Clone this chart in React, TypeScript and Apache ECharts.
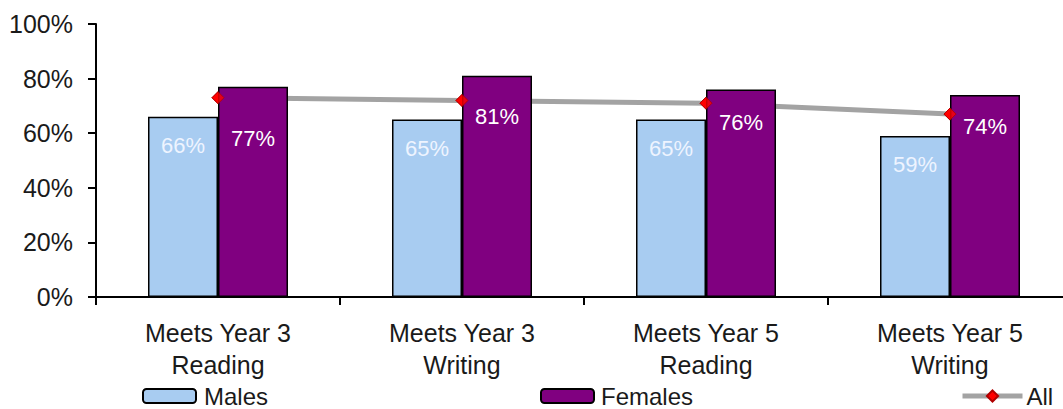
import React, { useEffect, useRef } from "react";
import * as echarts from "echarts";

const categories = [
  "Meets Year 3\nReading",
  "Meets Year 3\nWriting",
  "Meets Year 5\nReading",
  "Meets Year 5\nWriting",
];
const males = [66, 65, 65, 59];
const females = [77, 81, 76, 74];
const allStudents = [73, 72, 71, 67];
const yTicks = [0, 20, 40, 60, 80, 100];

// label placement (distance from bar top), kept apart from the data
const maleLabelDist = [18, 18, 18, 18];
const femaleLabelDist = [41, 30, 22, 21];

const FONT = "'Liberation Sans', Arial, sans-serif";
const TEXT = "#1a1a1a";

export default function App() {
  const ref = useRef<HTMLDivElement>(null);

  useEffect(() => {
    if (!ref.current) return;
    const chart = echarts.init(ref.current, null, { renderer: "svg" });
    const legendText = { fontSize: 24, lineHeight: 24, color: TEXT, fontFamily: FONT };
    const option: any = {
      animation: false,
      backgroundColor: "#ffffff",
      textStyle: { fontFamily: FONT, color: TEXT },
      grid: { left: 96, top: 24, width: 976, height: 273, containLabel: false },
      xAxis: {
        type: "category",
        data: categories,
        axisLine: { show: true, lineStyle: { color: "#000", width: 2 } },
        axisTick: { show: true, length: 8, lineStyle: { color: "#000", width: 2 } },
        axisLabel: {
          fontSize: 25,
          lineHeight: 32,
          margin: 20,
          color: TEXT,
          fontFamily: FONT,
          interval: 0,
        },
        splitLine: { show: false },
      },
      yAxis: {
        type: "value",
        min: yTicks[0],
        max: yTicks[yTicks.length - 1],
        interval: 20,
        axisLine: { show: true, lineStyle: { color: "#000", width: 2 } },
        axisTick: { show: true, length: 8, lineStyle: { color: "#000", width: 2 } },
        axisLabel: {
          fontSize: 25,
          margin: 23,
          color: TEXT,
          fontFamily: FONT,
          formatter: "{value}%",
        },
        splitLine: { show: false },
      },
      legend: [
        {
          data: ["Males"],
          left: 142,
          top: 384,
          padding: 0,
          itemWidth: 53,
          itemHeight: 14,
          textStyle: { ...legendText, padding: [0, 0, 0, 3] },
        },
        {
          data: ["Females"],
          left: 540,
          top: 384,
          padding: 0,
          itemWidth: 53,
          itemHeight: 14,
          textStyle: { ...legendText, padding: [0, 0, 0, 2] },
        },
        {
          data: ["All"],
          left: 960,
          top: 384,
          padding: 0,
          itemWidth: 60,
          itemHeight: 14,
          lineStyle: { width: 5, color: "#a3a3a3" },
          textStyle: { ...legendText, padding: [0, 0, 0, -1] },
        },
      ],
      series: [
        {
          name: "All",
          type: "line",
          z: 1,
          data: allStudents,
          symbol: "diamond",
          symbolSize: 12,
          itemStyle: { color: "#ff0000", borderColor: "#b00000", borderWidth: 1 },
          lineStyle: { color: "#a3a3a3", width: 5 },
        },
        {
          name: "Males",
          type: "bar",
          z: 2,
          barWidth: 70,
          barGap: "0%",
          itemStyle: { color: "#a8ccf1", borderColor: "#000", borderWidth: 1.5 },
          data: males.map((v, i) => ({
            value: v,
            label: { distance: maleLabelDist[i] },
          })),
          label: {
            show: true,
            position: "insideTop",
            formatter: "{c}%",
            fontSize: 22,
            color: "#eef4ff",
            fontFamily: FONT,
          },
        },
        {
          name: "Females",
          type: "bar",
          z: 2,
          barWidth: 70,
          barGap: "0%",
          itemStyle: { color: "#800080", borderColor: "#000", borderWidth: 1.5 },
          data: females.map((v, i) => ({
            value: v,
            label: { distance: femaleLabelDist[i] },
          })),
          label: {
            show: true,
            position: "insideTop",
            formatter: "{c}%",
            fontSize: 22,
            color: "#ffffff",
            fontFamily: FONT,
          },
        },
        {
          name: "AllMarkers",
          type: "scatter",
          z: 5,
          data: allStudents,
          symbol: "diamond",
          symbolSize: 12,
          itemStyle: { color: "#ff0000", borderColor: "#b00000", borderWidth: 1 },
          silent: true,
        },
      ],
    };
    chart.setOption(option);
    return () => chart.dispose();
  }, []);

  return (
    <div
      style={{
        position: "fixed",
        left: 0,
        top: 0,
        width: 1063,
        height: 409,
        overflow: "hidden",
        background: "#fff",
      }}
    >
      <div ref={ref} style={{ width: 1090, height: 409 }} />
    </div>
  );
}
